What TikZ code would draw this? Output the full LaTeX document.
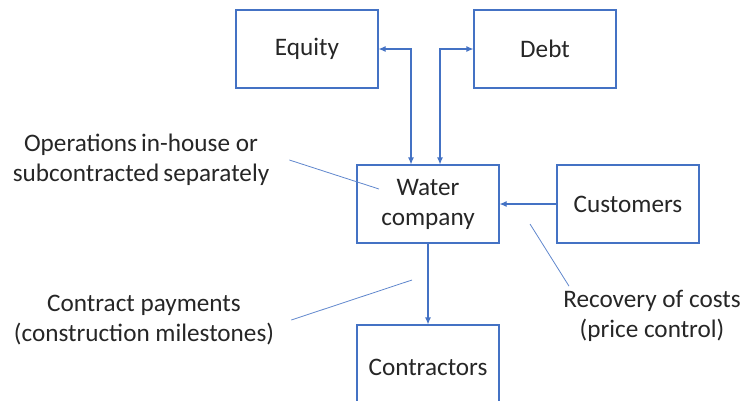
\documentclass[tikz,border=0pt]{standalone}
\usepackage{fontspec}
\setmainfont{Carlito}
\usetikzlibrary{arrows.meta}
\definecolor{boxblue}{HTML}{4472C4}
\definecolor{inktext}{HTML}{262626}

\begin{document}
\begin{tikzpicture}[x=1pt,y=-1pt,>={Latex[length=7pt,width=6pt]},
  blk/.style={draw=boxblue,line width=1.1pt,minimum width=142pt,minimum height=78pt,
    inner sep=0pt,text=inktext,align=center,font=\fontsize{25.2}{30}\selectfont},
  lbl/.style={text=inktext,align=center,inner sep=2pt,font=\fontsize{25.2}{30}\selectfont},
  flow/.style={draw=boxblue,line width=1.1pt},
  callout/.style={draw=boxblue!85,line width=0.8pt}]
\useasboundingbox (0,0) rectangle (743,400);
\clip (0,0) rectangle (743,400);
% boxes
\node[blk] (equity) at (307,49) {Equity};
\node[blk] (debt) at (545,49) {Debt};
\node[blk] (water) at (428,204) {Water\\company};
\node[blk] (cust) at (628,204) {Customers};
\node[blk,minimum height=84pt] (contr) at (428,367) {Contractors};
% flows
\draw[flow,<->] (equity.east) -| ([xshift=-17pt]water.north);
\draw[flow,<->] (debt.west) -| ([xshift=12pt]water.north);
\draw[flow,->] (cust) -- (water);
\draw[flow,->] (water) -- (contr);
% notes
\node[lbl] (ops) at (141,160) {Operations\,in-house or\\subcontracted\,separately};
\node[lbl] (pay) at (144,320) {Contract payments\\(construction milestones)};
\node[lbl] (recov) at (652,316) {Recovery of costs\\(price control)};
\coordinate (opsend) at (379,189);
\coordinate (payend) at (412,280);
\coordinate (recovend) at (530,224);
\draw[callout] ([xshift=18pt]ops.east) -- (opsend);
\draw[callout] ([xshift=15pt]pay.east) -- (payend);
\draw[callout] ([xshift=-83pt,yshift=2pt]recov.north) -- (recovend);
\end{tikzpicture}
\end{document}
